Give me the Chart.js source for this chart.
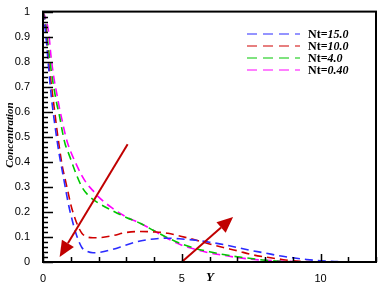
<!DOCTYPE html>
<html>
<head>
<meta charset="utf-8">
<script src="https://cdn.jsdelivr.net/npm/chart.js@4"></script>
<style>
  body { margin: 0; background: #fff; }
  #wrap { width: 390px; height: 289px; }
</style>
</head>
<body>
<div id="wrap"><canvas id="chart"></canvas></div>
<script>
// Y positions along the curves
const yGrid = [0, 0.1, 0.2, 0.3, 0.4, 0.5, 0.6, 0.7, 0.8, 0.9, 1.0, 1.2, 1.4, 1.6, 1.8, 2.0,
  2.5, 3, 3.5, 4, 4.5, 5, 5.5, 6, 6.5, 7, 7.5, 8, 8.5, 9, 9.5, 10, 10.5, 11, 11.5, 12];

const nt15 = [1, 0.91, 0.78, 0.66, 0.57, 0.49, 0.42, 0.36, 0.30, 0.24, 0.19, 0.11, 0.058, 0.042, 0.037, 0.038,
  0.05, 0.068, 0.084, 0.092, 0.095, 0.092, 0.087, 0.079, 0.07, 0.058, 0.046, 0.036, 0.025, 0.017, 0.01, 0.005, 0.002, 0, 0, 0];
const nt10 = [1, 0.93, 0.80, 0.71, 0.62, 0.53, 0.45, 0.38, 0.33, 0.28, 0.23, 0.16, 0.115, 0.1, 0.097, 0.097,
  0.105, 0.118, 0.122, 0.12, 0.115, 0.102, 0.088, 0.072, 0.058, 0.045, 0.03, 0.02, 0.012, 0.005, 0.002, 0, 0, 0, 0, 0];
const nt4 = [1, 0.95, 0.85, 0.76, 0.69, 0.63, 0.58, 0.52, 0.47, 0.44, 0.41, 0.35, 0.30, 0.27, 0.25, 0.235,
  0.205, 0.178, 0.155, 0.125, 0.096, 0.072, 0.054, 0.041, 0.03, 0.021, 0.014, 0.007, 0.003, 0.001, 0, 0, 0, 0, 0, 0];
const nt04 = [1, 0.97, 0.92, 0.81, 0.73, 0.67, 0.61, 0.56, 0.51, 0.47, 0.44, 0.39, 0.345, 0.31, 0.285, 0.26,
  0.215, 0.18, 0.155, 0.125, 0.093, 0.067, 0.05, 0.036, 0.027, 0.018, 0.011, 0.007, 0.004, 0.002, 0.001, 0, 0, 0, 0, 0];

const seriesNt = ['15.0', '10.0', '4.0', '0.40'];
const seriesColors = ['#2b2bff', '#d00000', '#00c800', '#ff00ff'];
const xTicks = [0, 5, 10];
const yTicks = [0, 0.1, 0.2, 0.3, 0.4, 0.5, 0.6, 0.7, 0.8, 0.9, 1];

// arrows: [fromY, fromC, toY, toC]
const arrows = [[3.05, 0.47, 0.6, 0.02], [5.0, 0.0, 6.85, 0.18]];

const makeSet = (vals, i) => ({
  label: 'Nt=' + seriesNt[i],
  data: yGrid.map((x, k) => ({x: x, y: vals[k]})),
  borderColor: seriesColors[i],
  borderWidth: 1.6,
  borderDash: [8, 5],
  pointRadius: 0,
  fill: false,
  cubicInterpolationMode: 'monotone'
});

const frame = {
  id: 'frame',
  afterDatasetsDraw(chart) {
    const ctx = chart.ctx;
    const a = chart.chartArea;
    const x = chart.scales.x, y = chart.scales.y;
    ctx.save();

    // arrows
    ctx.strokeStyle = '#c00000';
    ctx.fillStyle = '#c00000';
    ctx.lineWidth = 2;
    arrows.forEach(r => {
      const x0 = x.getPixelForValue(r[0]), y0 = y.getPixelForValue(r[1]);
      const x1 = x.getPixelForValue(r[2]), y1 = y.getPixelForValue(r[3]);
      const ang = Math.atan2(y1 - y0, x1 - x0);
      const hl = 16, hw = 7;
      const bx = x1 - hl * Math.cos(ang), by = y1 - hl * Math.sin(ang);
      ctx.beginPath();
      ctx.moveTo(x0, y0);
      ctx.lineTo(bx, by);
      ctx.stroke();
      ctx.beginPath();
      ctx.moveTo(x1, y1);
      ctx.lineTo(bx + hw * Math.sin(ang), by - hw * Math.cos(ang));
      ctx.lineTo(bx - hw * Math.sin(ang), by + hw * Math.cos(ang));
      ctx.closePath();
      ctx.fill();
    });

    // frame
    ctx.strokeStyle = '#000';
    ctx.lineWidth = 2;
    ctx.strokeRect(a.left, a.top, a.right - a.left, a.bottom - a.top);

    // inward ticks
    ctx.lineWidth = 1.5;
    ctx.beginPath();
    for (let v = 0; v <= 12; v++) {
      const px = Math.round(x.getPixelForValue(v)) + 0.5;
      const len = v % 5 === 0 ? 8 : 5;
      ctx.moveTo(px, a.bottom);
      ctx.lineTo(px, a.bottom - len);
    }
    for (let k = 0; k <= 50; k++) {
      const py = Math.round(y.getPixelForValue(k / 50)) + 0.5;
      const len = k % 5 === 0 ? 10 : 5;
      ctx.moveTo(a.left, py);
      ctx.lineTo(a.left + len, py);
    }
    ctx.stroke();

    // legend
    ctx.textBaseline = 'middle';
    ctx.textAlign = 'left';
    seriesNt.forEach((t, i) => {
      const ly = 34 + i * 12;
      ctx.strokeStyle = seriesColors[i];
      ctx.lineWidth = 1.2;
      ctx.setLineDash([10, 6]);
      ctx.beginPath();
      ctx.moveTo(247, ly);
      ctx.lineTo(300, ly);
      ctx.stroke();
      ctx.setLineDash([]);
      ctx.fillStyle = '#000';
      ctx.font = 'bold 12px "Liberation Serif"';
      ctx.fillText('Nt=', 308, ly + 1);
      const w = ctx.measureText('Nt=').width;
      ctx.font = 'italic bold 12px "Liberation Serif"';
      ctx.fillText(t, 308 + w, ly + 1);
    });

    // axis titles
    ctx.font = 'italic bold 13px "Liberation Serif"';
    ctx.textAlign = 'center';
    ctx.fillText('Y', 210, 278);
    ctx.save();
    ctx.translate(10, 135);
    ctx.rotate(-Math.PI / 2);
    ctx.font = 'italic bold 11px "Liberation Serif"';
    ctx.fillText('Concentration', 0, 0);
    ctx.restore();

    ctx.restore();
  }
};

new Chart("chart", {
  type: 'line',
  data: {
    datasets: [makeSet(nt15, 0), makeSet(nt10, 1), makeSet(nt4, 2), makeSet(nt04, 3)]
  },
  options: {
    responsive: true,
    maintainAspectRatio: false,
    animation: false,
    layout: { padding: { top: 8, right: 14, left: 0, bottom: 0 } },
    plugins: { legend: { display: false }, tooltip: { enabled: false } },
    scales: {
      x: {
        type: 'linear',
        min: 0, max: 12,
        afterBuildTicks: s => { s.ticks = xTicks.map(v => ({value: v})); },
        afterFit: s => { s.height = 27; },
        grid: { display: false },
        border: { display: false },
        ticks: { padding: 2, color: '#000', font: { family: 'Liberation Sans', size: 11 } }
      },
      y: {
        min: 0, max: 1,
        afterBuildTicks: s => { s.ticks = yTicks.map(v => ({value: v})); },
        afterFit: s => { s.width = 43; },
        grid: { display: false },
        border: { display: false },
        ticks: {
          padding: 5, color: '#000', font: { family: 'Liberation Sans', size: 11 },
          callback: v => String(Math.round(v * 10) / 10)
        }
      }
    }
  },
  plugins: [frame]
});
</script>
</body>
</html>
